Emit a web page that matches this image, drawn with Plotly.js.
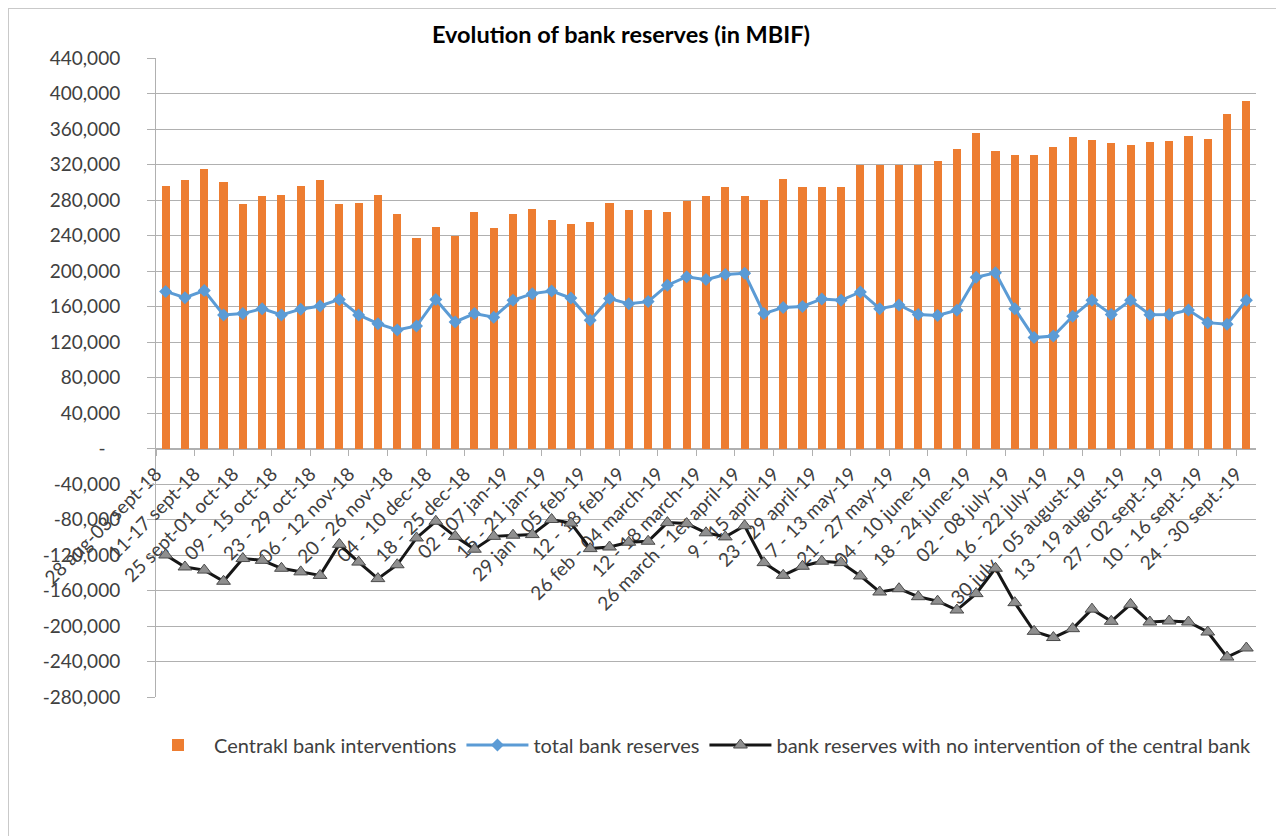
<!DOCTYPE html>
<html>
<head>
<meta charset="utf-8">
<script src="https://cdn.plot.ly/plotly-3.0.1.min.js"></script>
<style>
  html, body { margin: 0; padding: 0; background: #ffffff; }
  #frame {
    position: absolute; left: 8px; top: 8px; width: 1400px; height: 900px;
    border-left: 1px solid #c9c9c9; border-top: 1px solid #c9c9c9;
    pointer-events: none; z-index: 5;
  }
  #chart { position: absolute; left: 0; top: 0; width: 1276px; height: 836px; }
</style>
</head>
<body>
<div id="chart"></div>
<div id="frame"></div>
<script>
// Weekly figures, in MBIF
const weekLabels = [
  "28 aug-03 sept-18", "11-17 sept-18", "25 sept-01 oct-18", "09 - 15 oct-18",
  "23 - 29 oct-18", "06 - 12 nov-18", "20 - 26 nov-18", "04 - 10 dec-18",
  "18 - 25 dec-18", "02 - 07 jan-19", "15 - 21 jan-19", "29 jan - 05 feb-19",
  "12 - 18 feb-19", "26 feb - 04 march-19", "12 - 18 march-19",
  "26 march - 1er april-19", "9 - 15 april-19", "23 - 29 april-19",
  "7 - 13 may-19", "21 - 27 may-19", "04 - 10 june-19", "18 - 24 june-19",
  "02 - 08 july-19", "16 - 22 july-19", "30 july - 05 august-19",
  "13 - 19 august-19", "27 - 02 sept.-19", "10 - 16 sept.-19", "24 - 30 sept.-19"
];

const centralBankInterventions = [
  296000, 303000, 315000, 300000, 276000, 284000, 286000, 296000, 303000, 276000,
  277000, 286000, 264000, 237000, 250000, 240000, 266000, 248000, 264000, 270000,
  257000, 252500, 255500, 277000, 268700, 268700, 267000, 279000, 284000, 294500,
  284000, 280000, 303500, 294500, 294500, 294500, 320000, 319000, 320000, 319000,
  323500, 337700, 355000, 335000, 330600, 330600, 339600, 351000, 348000, 343700,
  342000, 345000, 346700, 352000, 349000, 377000, 391000
];

const totalBankReserves = [
  177000, 170000, 178000, 150500, 152000, 157600, 150500, 157000, 160600, 168000,
  150500, 140700, 133600, 138000, 168000, 142600, 152000, 148000, 167000, 174500,
  177500, 169600, 144500, 169000, 163000, 165500, 184000, 193600, 190300, 196000,
  197400, 152000, 159000, 160000, 168500, 167000, 176400, 157600, 161700, 151000,
  150000, 155700, 193000, 198000, 157600, 125000, 126800, 149000, 167000, 151000,
  167000, 150800, 151000, 156000, 141800, 140000, 167000
];

const reservesWithoutIntervention = [
  -120000, -133500, -137000, -149600, -124000, -126000, -135000, -139000, -143000, -108000,
  -128000, -146600, -131000, -100800, -82000, -99000, -113500, -99000, -97700, -97000,
  -80000, -84000, -112800, -111000, -105600, -104500, -83500, -84600, -95000, -99600,
  -87000, -128600, -142900, -132700, -127000, -128600, -143600, -161700, -158000, -167000,
  -172000, -182000, -163500, -135000, -173700, -206000, -213000, -203000, -181000, -194700,
  -175600, -195500, -194400, -195500, -206800, -235000, -224800
];

const yTickValues = [440000, 400000, 360000, 320000, 280000, 240000, 200000, 160000,
  120000, 80000, 40000, 0, -40000, -80000, -120000, -160000, -200000, -240000, -280000];
const yTickLabels = ["440,000", "400,000", "360,000", "320,000", "280,000", "240,000",
  "200,000", "160,000", "120,000", "80,000", "40,000", "-\u00a0\u00a0\u00a0", "-40,000",
  "-80,000", "-120,000", "-160,000", "-200,000", "-240,000", "-280,000"];

const seriesNames = [
  "Centrakl bank interventions",
  "total bank reserves",
  "bank reserves with no intervention of the central bank"
];

// Layout geometry
const W = 1276, H = 836;
const margin = { l: 156, r: 20, t: 58, b: 139 };
const plotW = W - margin.l - margin.r;
const plotH = H - margin.t - margin.b;
const nWeeks = centralBankInterventions.length;
const yMin = -280000, yMax = 440000;

const weekIndex = centralBankInterventions.map((_, i) => i);
// one tick per labelled pair of weeks, drawn at the left boundary of the labelled week
const tickPositions = weekLabels.map((_, i) => 2 * i - 0.5);
const halfWeekPx = plotW / nWeeks / 2;

const gridColor = "#b0b0b0";
const textColor = "#404040";
const FONT = "Lato, 'Open Sans', sans-serif";

const traces = [
  {
    type: "bar",
    name: seriesNames[0],
    x: weekIndex,
    y: centralBankInterventions,
    width: 0.42,
    marker: { color: "#ED7D31", line: { width: 0 } },
    hoverinfo: "y"
  },
  {
    type: "scatter",
    mode: "lines+markers",
    name: seriesNames[1],
    x: weekIndex,
    y: totalBankReserves,
    line: { color: "#5B9BD5", width: 3 },
    marker: { symbol: "diamond", size: 10, color: "#5B9BD5" },
    hoverinfo: "y"
  },
  {
    type: "scatter",
    mode: "lines+markers",
    name: seriesNames[2],
    x: weekIndex,
    y: reservesWithoutIntervention,
    line: { color: "#161616", width: 3 },
    marker: { symbol: "triangle-up", size: 12, color: "#8f8f8f", line: { color: "#4a4a4a", width: 1 } },
    hoverinfo: "y"
  }
];

const layout = {
  width: W,
  height: H,
  margin: margin,
  paper_bgcolor: "#ffffff",
  plot_bgcolor: "#ffffff",
  font: { family: FONT, size: 19, color: textColor },
  showlegend: true,
  title: {
    text: "Evolution of bank reserves (in MBIF)",
    font: { family: FONT, size: 23.5, color: "#000000", weight: "bold" },
    x: 621 / W,
    xanchor: "center",
    xref: "container",
    y: 1 - 35 / H,
    yanchor: "middle",
    yref: "container"
  },
  bargap: 0,
  xaxis: {
    type: "linear",
    range: [-0.5, nWeeks - 0.5],
    anchor: "free",
    position: (0 - yMin) / (yMax - yMin),
    tickmode: "array",
    tickvals: tickPositions,
    ticktext: weekLabels,
    tickangle: -45,
    ticklabelshift: halfWeekPx + 5,
    ticks: "outside",
    ticklen: 6,
    tickcolor: gridColor,
    tickfont: { family: FONT, size: 19, color: textColor },
    showline: true,
    linecolor: gridColor,
    linewidth: 1,
    showgrid: false,
    zeroline: false,
    layer: "below traces",
    fixedrange: true
  },
  yaxis: {
    range: [yMin, yMax],
    tickmode: "array",
    tickvals: yTickValues,
    ticktext: yTickLabels,
    ticks: "outside",
    ticklen: 8,
    tickcolor: gridColor,
    tickfont: { family: FONT, size: 19, color: textColor },
    ticklabelstandoff: 23,
    showline: true,
    linecolor: gridColor,
    linewidth: 1,
    showgrid: true,
    gridcolor: gridColor,
    gridwidth: 1,
    zeroline: false,
    layer: "below traces",
    fixedrange: true
  },
  legend: {
    orientation: "h",
    x: (142 - margin.l) / plotW,
    xanchor: "left",
    y: -(margin.b - (H - 745)) / plotH,
    yanchor: "middle",
    font: { family: FONT, size: 20, color: textColor },
    itemwidth: 62,
    bgcolor: "rgba(0,0,0,0)",
    traceorder: "normal"
  }
};

Plotly.newPlot("chart", traces, layout, { displayModeBar: false });
</script>
</body>
</html>
